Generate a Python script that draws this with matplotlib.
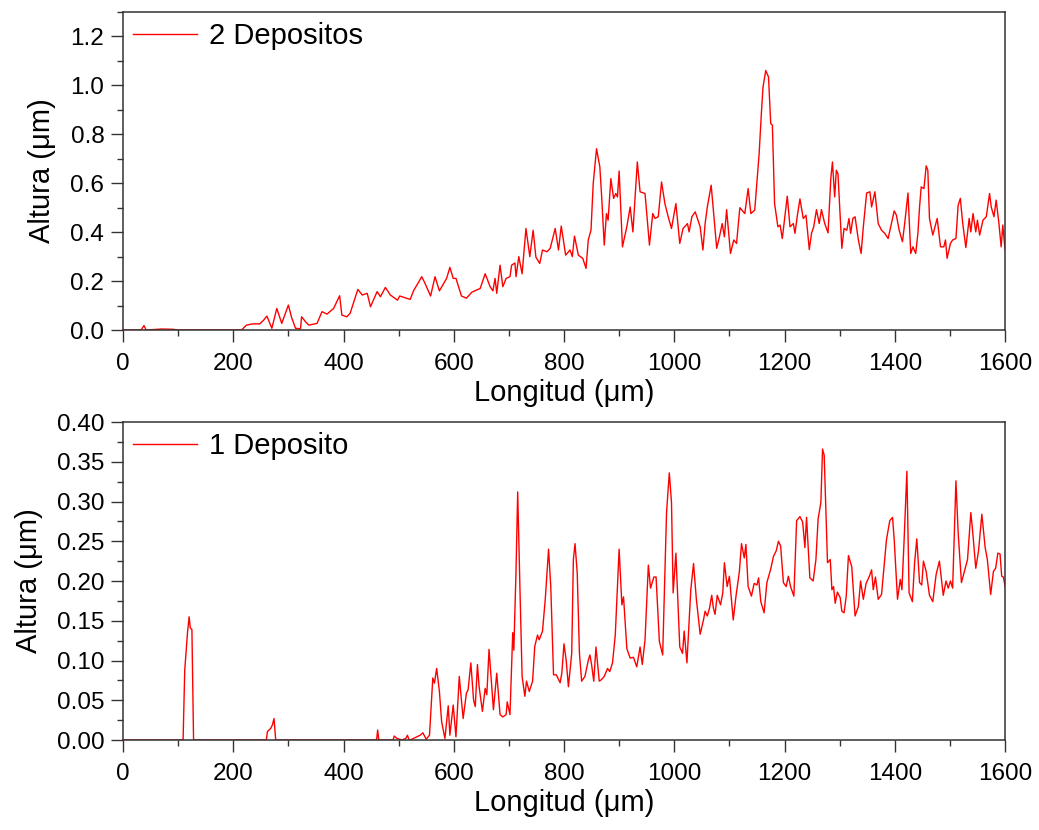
import matplotlib
matplotlib.use('Agg')
import matplotlib.pyplot as plt
from matplotlib.ticker import MultipleLocator, FormatStrFormatter

plt.rcParams['font.family'] = ['Liberation Sans', 'DejaVu Sans']

# 2 Depositos profile (x in um, height in um)
x2 = [0, 20, 33, 38, 42, 70, 90, 100, 190, 215, 224, 235, 248, 255, 261, 270, 279, 288, 300, 306,
      313, 322, 324, 331, 337, 352, 361, 370, 382, 393, 397, 406, 412, 426, 434, 443, 449, 461, 467, 476,
      485, 498, 502, 521, 527, 542, 548, 558, 566, 574, 587, 593, 599, 604, 614, 623, 633, 648, 657, 666,
      671, 675, 678, 684, 689, 695, 702, 705, 711, 713, 718, 724, 731, 738, 744, 749, 756, 761, 769, 775,
      784, 790, 795, 803, 811, 815, 819, 826, 834, 840, 844, 849, 853, 859, 865, 868, 873, 877, 880, 885,
      890, 894, 897, 900, 906, 914, 920, 925, 933, 938, 947, 955, 961, 965, 971, 977, 983, 989, 995, 1003,
      1010, 1016, 1024, 1027, 1032, 1038, 1047, 1052, 1056, 1060, 1067, 1072, 1077, 1082, 1087, 1091, 1095, 1102, 1108, 1113,
      1119, 1128, 1134, 1139, 1146, 1154, 1158, 1161, 1166, 1171, 1175, 1178, 1182, 1188, 1192, 1196, 1201, 1205, 1210, 1216,
      1219, 1223, 1228, 1234, 1239, 1245, 1249, 1253, 1258, 1263, 1267, 1273, 1279, 1284, 1287, 1291, 1294, 1297, 1304, 1308,
      1313, 1317, 1320, 1324, 1328, 1334, 1339, 1343, 1349, 1355, 1358, 1364, 1370, 1376, 1382, 1388, 1394, 1399, 1403, 1408,
      1414, 1418, 1424, 1429, 1433, 1438, 1442, 1445, 1448, 1453, 1457, 1460, 1463, 1469, 1477, 1483, 1489, 1492, 1495, 1501,
      1505, 1511, 1515, 1519, 1523, 1529, 1535, 1538, 1542, 1547, 1550, 1554, 1560, 1566, 1572, 1575, 1580, 1584, 1589, 1593,
      1596, 1600]
y2 = [0.0, 0.0, 0.0, 0.018, 0.0, 0.004, 0.003, 0.0, 0.0, 0.0, 0.02, 0.025, 0.025, 0.04, 0.057, 0.007, 0.088, 0.027, 0.102, 0.05,
      0.007, 0.005, 0.054, 0.034, 0.02, 0.027, 0.075, 0.065, 0.088, 0.14, 0.061, 0.054, 0.068, 0.166, 0.143, 0.15, 0.095, 0.157, 0.136, 0.174,
      0.143, 0.122, 0.139, 0.125, 0.16, 0.218, 0.19, 0.139, 0.218, 0.16, 0.211, 0.256, 0.211, 0.211, 0.139, 0.13, 0.155, 0.17, 0.23, 0.177,
      0.16, 0.211, 0.15, 0.265, 0.177, 0.211, 0.218, 0.265, 0.274, 0.218, 0.30, 0.23, 0.415, 0.30, 0.408, 0.298, 0.272, 0.327, 0.32, 0.334,
      0.415, 0.327, 0.425, 0.306, 0.327, 0.30, 0.384, 0.306, 0.293, 0.252, 0.368, 0.408, 0.599, 0.741, 0.667, 0.558, 0.347, 0.476, 0.449, 0.619,
      0.538, 0.558, 0.544, 0.65, 0.34, 0.422, 0.503, 0.401, 0.687, 0.565, 0.558, 0.347, 0.476, 0.456, 0.463, 0.605, 0.517, 0.463, 0.415, 0.517,
      0.354, 0.415, 0.435, 0.401, 0.463, 0.483, 0.422, 0.327, 0.435, 0.503, 0.592, 0.463, 0.334, 0.381, 0.435, 0.381, 0.492, 0.313, 0.368, 0.354,
      0.50, 0.476, 0.578, 0.476, 0.49, 0.721, 0.884, 0.993, 1.061, 1.034, 0.844, 0.837, 0.517, 0.422, 0.429, 0.374, 0.469, 0.547, 0.422, 0.435,
      0.395, 0.463, 0.536, 0.456, 0.469, 0.329, 0.395, 0.422, 0.492, 0.435, 0.492, 0.435, 0.397, 0.619, 0.687, 0.544, 0.653, 0.639, 0.334, 0.415,
      0.408, 0.456, 0.395, 0.456, 0.463, 0.368, 0.313, 0.422, 0.56, 0.565, 0.503, 0.565, 0.435, 0.408, 0.395, 0.374, 0.435, 0.487, 0.469, 0.408,
      0.361, 0.435, 0.56, 0.313, 0.34, 0.313, 0.395, 0.503, 0.585, 0.578, 0.671, 0.653, 0.456, 0.388, 0.456, 0.34, 0.34, 0.368, 0.293, 0.354,
      0.368, 0.374, 0.51, 0.538, 0.442, 0.337, 0.456, 0.401, 0.476, 0.401, 0.449, 0.388, 0.449, 0.463, 0.558, 0.503, 0.463, 0.531, 0.435, 0.34,
      0.429, 0.33]

# 1 Deposito profile
x1 = [0, 109, 112, 117, 120, 122, 125, 128, 260, 262, 268, 271, 274, 277, 460, 462, 464, 490, 492, 497,
      506, 513, 516, 519, 521, 539, 544, 550, 556, 562, 565, 569, 574, 578, 584, 590, 593, 599, 604, 610,
      617, 623, 626, 631, 636, 639, 643, 646, 652, 657, 660, 664, 669, 672, 678, 684, 689, 695, 697, 702,
      707, 709, 713, 716, 720, 724, 729, 732, 737, 743, 747, 752, 755, 761, 766, 772, 776, 781, 786, 793,
      796, 800, 804, 808, 814, 817, 820, 824, 828, 832, 838, 844, 847, 850, 854, 858, 864, 868, 873, 879,
      883, 888, 893, 900, 905, 908, 914, 920, 926, 932, 938, 942, 947, 953, 957, 963, 967, 973, 979, 986,
      991, 995, 998, 1003, 1010, 1015, 1018, 1023, 1030, 1035, 1040, 1047, 1053, 1056, 1060, 1064, 1068, 1071, 1074, 1078,
      1084, 1088, 1091, 1096, 1100, 1107, 1112, 1118, 1122, 1127, 1130, 1134, 1140, 1145, 1150, 1153, 1157, 1163, 1168, 1175,
      1180, 1185, 1189, 1193, 1198, 1203, 1207, 1211, 1217, 1222, 1228, 1233, 1237, 1240, 1246, 1252, 1257, 1261, 1266, 1269,
      1272, 1275, 1278, 1283, 1286, 1289, 1292, 1296, 1301, 1304, 1308, 1312, 1316, 1322, 1328, 1334, 1338, 1343, 1348, 1354,
      1358, 1361, 1365, 1370, 1376, 1379, 1385, 1391, 1396, 1399, 1405, 1410, 1413, 1417, 1422, 1426, 1432, 1436, 1440, 1445,
      1449, 1452, 1457, 1463, 1469, 1475, 1481, 1488, 1493, 1497, 1501, 1505, 1511, 1515, 1521, 1527, 1532, 1538, 1541, 1547,
      1552, 1558, 1564, 1568, 1574, 1579, 1583, 1587, 1591, 1594, 1597, 1600]
y1 = [0.0, 0.0, 0.088, 0.135, 0.155, 0.141, 0.139, 0.0, 0.0, 0.0105, 0.0147, 0.019, 0.027, 0.0, 0.0, 0.0126, 0.0, 0.0, 0.005, 0.002,
      0.0, 0.002, 0.006, 0.0, 0.0, 0.006, 0.009, 0.001, 0.006, 0.078, 0.0715, 0.09, 0.061, 0.023, 0.002, 0.043, 0.006, 0.044, 0.004, 0.08,
      0.027, 0.059, 0.063, 0.097, 0.05, 0.042, 0.095, 0.067, 0.036, 0.065, 0.057, 0.114, 0.067, 0.038, 0.084, 0.032, 0.029, 0.032, 0.048, 0.032,
      0.135, 0.113, 0.214, 0.312, 0.193, 0.08, 0.055, 0.074, 0.061, 0.074, 0.118, 0.132, 0.126, 0.137, 0.177, 0.24, 0.193, 0.082, 0.082, 0.072,
      0.084, 0.121, 0.10, 0.067, 0.109, 0.227, 0.247, 0.21, 0.109, 0.074, 0.08, 0.10, 0.107, 0.095, 0.074, 0.117, 0.074, 0.076, 0.08, 0.09,
      0.086, 0.097, 0.132, 0.24, 0.17, 0.18, 0.115, 0.103, 0.104, 0.092, 0.117, 0.095, 0.126, 0.22, 0.191, 0.205, 0.205, 0.124, 0.107, 0.286,
      0.336, 0.299, 0.185, 0.235, 0.117, 0.109, 0.137, 0.097, 0.189, 0.222, 0.178, 0.133, 0.151, 0.162, 0.156, 0.166, 0.182, 0.166, 0.158, 0.182,
      0.17, 0.185, 0.223, 0.193, 0.206, 0.151, 0.181, 0.211, 0.247, 0.229, 0.246, 0.193, 0.181, 0.197, 0.195, 0.204, 0.174, 0.16, 0.198, 0.215,
      0.231, 0.238, 0.25, 0.244, 0.198, 0.193, 0.206, 0.193, 0.181, 0.276, 0.281, 0.274, 0.242, 0.28, 0.204, 0.20, 0.227, 0.278, 0.299, 0.366,
      0.358, 0.29, 0.223, 0.227, 0.189, 0.193, 0.172, 0.186, 0.179, 0.162, 0.16, 0.181, 0.232, 0.218, 0.156, 0.168, 0.20, 0.177, 0.197, 0.206,
      0.214, 0.189, 0.205, 0.177, 0.183, 0.206, 0.252, 0.276, 0.28, 0.252, 0.177, 0.202, 0.189, 0.252, 0.338, 0.185, 0.174, 0.223, 0.253, 0.198,
      0.195, 0.225, 0.212, 0.182, 0.174, 0.208, 0.225, 0.182, 0.20, 0.191, 0.20, 0.191, 0.326, 0.261, 0.198, 0.214, 0.227, 0.286, 0.265, 0.216,
      0.238, 0.284, 0.242, 0.227, 0.183, 0.212, 0.216, 0.235, 0.234, 0.206, 0.205, 0.194]

W, H = 1039, 830
fig = plt.figure(figsize=(W / 100, H / 100), dpi=100)
ax_top = fig.add_axes([123 / W, 1 - 330 / H, 882 / W, 318 / H])
ax_bot = fig.add_axes([123 / W, 1 - 740 / H, 882 / W, 318 / H])


def style_axis(ax, ymax, ymajor, yminor, yfmt):
    ax.set_xlim(0, 1600)
    ax.set_ylim(0, ymax)
    ax.xaxis.set_major_locator(MultipleLocator(200))
    ax.xaxis.set_minor_locator(MultipleLocator(100))
    ax.yaxis.set_major_locator(MultipleLocator(ymajor))
    ax.yaxis.set_minor_locator(MultipleLocator(yminor))
    ax.yaxis.set_major_formatter(FormatStrFormatter(yfmt))
    ax.tick_params(which='both', direction='out', top=False, right=False,
                   color='#333333', width=1.0)
    ax.tick_params(which='major', length=8.5, labelsize=17.5, pad=5)
    ax.tick_params(axis='x', which='major', pad=8)
    ax.tick_params(which='minor', length=4)
    for s in ax.spines.values():
        s.set_linewidth(1.1)
        s.set_color('#333333')
    ax.set_xlabel('Longitud (μm)', fontsize=21, labelpad=3)
    ax.set_ylabel('Altura (μm)', fontsize=21, labelpad=10)
    ax.legend(loc='upper left', frameon=False, fontsize=21, handlelength=2.2,
              handletextpad=0.4, borderaxespad=0.1, borderpad=0.25)


ax_top.plot(x2, y2, color='red', lw=1.0, label='2 Depositos')
style_axis(ax_top, 1.3, 0.2, 0.1, '%.1f')

ax_bot.plot(x1, y1, color='red', lw=1.0, label='1 Deposito')
style_axis(ax_bot, 0.40, 0.05, 0.025, '%.2f')

fig.savefig('out.png', dpi=100)
